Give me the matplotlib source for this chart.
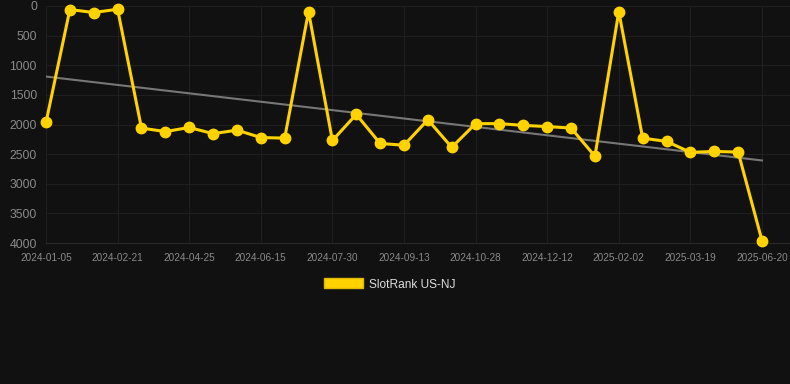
import numpy as np
import matplotlib
matplotlib.use("Agg")
import matplotlib.pyplot as plt
from matplotlib.patches import Patch

# dates of each snapshot (only every third one is shown on the axis)
dates = [
    "2024-01-05", "2024-01-21", "2024-02-05", "2024-02-21", "2024-03-13",
    "2024-04-04", "2024-04-25", "2024-05-12", "2024-05-29", "2024-06-15",
    "2024-06-30", "2024-07-15", "2024-07-30", "2024-08-14", "2024-08-29",
    "2024-09-13", "2024-09-28", "2024-10-13", "2024-10-28", "2024-11-12",
    "2024-11-27", "2024-12-12", "2024-12-29", "2025-01-16", "2025-02-02",
    "2025-02-17", "2025-03-04", "2025-03-19", "2025-04-15", "2025-05-18",
    "2025-06-20",
]
rank = [
    1965, 60, 110, 55, 2060, 2120, 2050, 2155, 2095, 2220,
    2230, 95, 2270, 1830, 2320, 2350, 1920, 2385, 1985, 1985,
    2015, 2035, 2060, 2535, 95, 2230, 2285, 2470, 2455, 2465,
    3960,
]
series_name = "SlotRank US-NJ"

BG = "#111111"
YELLOW = "#ffd200"
TICK = "#8a8a8a"
GRID = "#1f1f1f"

plt.rcParams["font.family"] = ["Liberation Sans", "DejaVu Sans"]

fig = plt.figure(figsize=(7.9, 3.84), dpi=100, facecolor=BG)
W, H = 790, 384
ax = fig.add_axes([46 / W, 1 - 243 / H, (790 - 46) / W, (243 - 6) / H])
ax.set_facecolor(BG)

x = np.arange(len(rank))
ax.set_xlim(0, (790 - 46) / ((762 - 46) / (len(rank) - 1)))
ax.set_ylim(4000, 0)

# trend line (least squares)
k, b = np.polyfit(x, rank, 1)
ax.plot([x[0], x[-1]], [b, k * x[-1] + b], color="#777777", lw=1.5, zorder=2)

ax.plot(x, rank, color=YELLOW, lw=2.2, marker="o", ms=7.5,
        markerfacecolor=YELLOW, markeredgecolor=YELLOW, zorder=3,
        clip_on=False)

ax.set_yticks(range(0, 4001, 500))
ax.set_yticklabels([str(v) for v in range(0, 4001, 500)])
tick_idx = x[::3]
ax.set_xticks(tick_idx)
ax.set_xticklabels([dates[i] for i in tick_idx])

ax.tick_params(axis="y", length=0, pad=6.5, labelsize=8.8, colors=TICK)
ax.tick_params(axis="x", length=0, pad=7.5, labelsize=7.2, colors=TICK)
ax.grid(True, color=GRID, lw=0.8)
ax.set_axisbelow(True)
for s in ["top", "right", "left"]:
    ax.spines[s].set_visible(False)
ax.spines["bottom"].set_color("#2a2a2a")

leg = fig.legend(handles=[Patch(facecolor=YELLOW, edgecolor="#e0b800", label=series_name)],
                 loc="center", bbox_to_anchor=(390 / W, 1 - 284.5 / H),
                 frameon=False, fontsize=8.6, handlelength=3.3, handleheight=0.9,
                 handletextpad=0.5, labelcolor="#dddddd")

fig.savefig("out.png", dpi=100, facecolor=BG)
